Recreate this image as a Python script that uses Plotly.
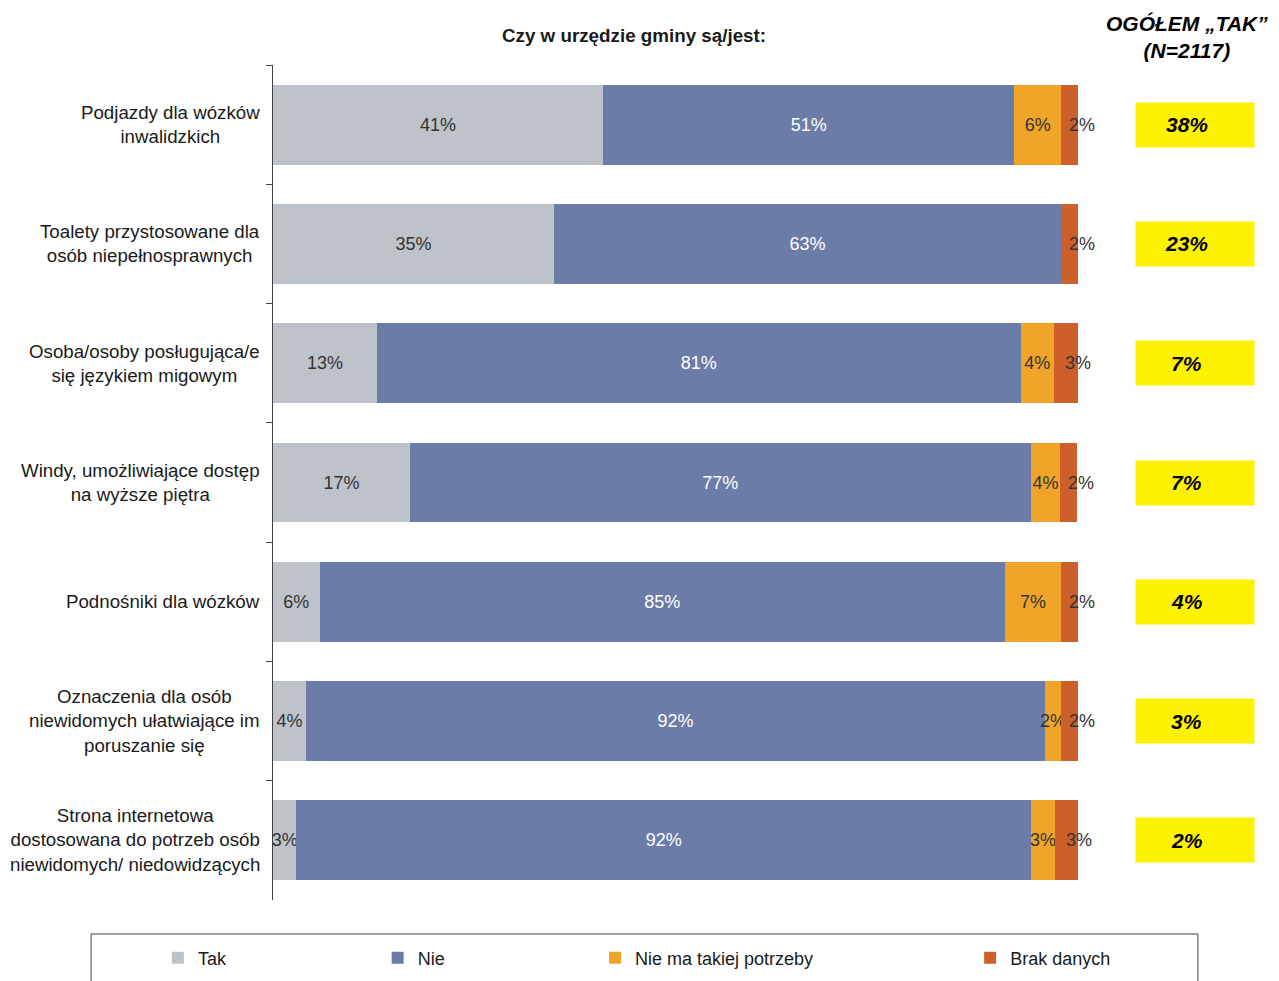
import plotly.graph_objects as go

# categories (top to bottom)
categories = [
    "Podjazdy dla wózków<br>inwalidzkich",
    "Toalety przystosowane dla<br>osób niepełnosprawnych",
    "Osoba/osoby posługująca/e<br>się językiem migowym",
    "Windy, umożliwiające dostęp<br>na wyższe piętra",
    "Podnośniki dla wózków",
    "Oznaczenia dla osób<br>niewidomych ułatwiające im<br>poruszanie się",
    "Strona internetowa<br>dostosowana do potrzeb osób<br>niewidomych/ niedowidzących",
]

tak = [41.0, 34.9, 12.9, 17.0, 5.8, 4.1, 2.9]
nie = [51.1, 63.0, 80.0, 77.1, 85.1, 91.8, 91.3]
nie_ma_potrzeby = [5.8, 0.0, 4.1, 3.7, 7.0, 2.0, 2.9]
brak_danych = [2.1, 2.1, 3.0, 2.1, 2.1, 2.1, 3.0]

tak_lbl = ["41%", "35%", "13%", "17%", "6%", "4%", "3%"]
nie_lbl = ["51%", "63%", "81%", "77%", "85%", "92%", "92%"]
potrzeby_lbl = ["6%", "", "4%", "4%", "7%", "2%", "3%"]
brak_lbl = ["2%", "2%", "3%", "2%", "2%", "2%", "3%"]

ogolem_tak = ["38%", "23%", "7%", "7%", "4%", "3%", "2%"]

ids = [str(i) for i in range(len(categories))]

FONT = "Liberation Sans, Arial, sans-serif"

series = [
    ("Tak", tak, tak_lbl, "#BEC3C9", "#333333", "legend"),
    ("Nie", nie, nie_lbl, "#6B7CA8", "white", "legend2"),
    ("Nie ma takiej potrzeby", nie_ma_potrzeby, potrzeby_lbl, "#F0A42A", "#333333", "legend3"),
    ("Brak danych", brak_danych, None, "#CD5F2A", "#333333", "legend4"),
]

fig = go.Figure()
for name, vals, lbls, col, tcol, lg in series:
    fig.add_trace(go.Bar(
        y=ids, x=vals, orientation="h", name=name,
        marker=dict(color=col, line=dict(width=0)),
        text=lbls, textposition="inside" if lbls else "none",
        insidetextanchor="middle",
        textangle=0, textfont=dict(color=tcol, size=18, family=FONT),
        legend=lg, hoverinfo="skip",
    ))

annotations = []
# "Brak danych" labels sit just right of the segment centre (as in the source chart)
for i in range(len(ids)):
    mid = tak[i] + nie[i] + nie_ma_potrzeby[i] + brak_danych[i] / 2
    annotations.append(dict(
        xref="x", yref="y", x=mid, y=ids[i], xanchor="center", xshift=12,
        text=brak_lbl[i], showarrow=False,
        font=dict(size=18, color="#333333", family=FONT),
    ))
# category labels, centered lines
for i, c in enumerate(categories):
    annotations.append(dict(
        xref="paper", yref="y", x=0, y=ids[i], xanchor="right", xshift=-11,
        text=c, showarrow=False, align="center",
        font=dict(size=18.7, color="#1a1a1a", family=FONT),
    ))
# yellow boxes
for i, v in enumerate(ogolem_tak):
    annotations.append(dict(
        xref="paper", yref="y", x=1.1453, y=ids[i], xanchor="center",
        text=" ", showarrow=False, width=116, height=42, bgcolor="#FFF200",
        font=dict(size=21, family=FONT),
    ))
    annotations.append(dict(
        xref="paper", yref="y", x=1.1453, y=ids[i], xanchor="center", xshift=-8,
        text="<b><i>" + v + "</i></b>", showarrow=False,
        font=dict(size=21, color="black", family=FONT),
    ))
annotations.append(dict(
    xref="paper", yref="paper", x=1.135, y=1.034, xanchor="center", yanchor="middle",
    text="<b><i>OGÓŁEM „TAK”<br>(N=2117)</i></b>", showarrow=False,
    font=dict(size=21, color="black", family=FONT),
))
annotations.append(dict(
    xref="paper", yref="paper", x=0.4485, y=1.0359, xanchor="center", yanchor="middle",
    text="<b>Czy w urzędzie gminy są/jest:</b>", showarrow=False,
    font=dict(size=18.8, color="#1a1a1a", family=FONT),
))

leg_common = dict(orientation="h", yanchor="middle", y=-0.0695, xanchor="left",
                  bgcolor="rgba(0,0,0,0)", font=dict(size=18, color="#1a1a1a", family=FONT),
                  itemwidth=30)

fig.update_layout(
    width=1279, height=981,
    margin=dict(l=265, r=209, t=57, b=89),
    barmode="stack", bargap=0.33,
    plot_bgcolor="white", paper_bgcolor="white",
    font=dict(family=FONT),
    uniformtext=dict(minsize=18, mode="show"),
    xaxis=dict(range=[0, 100], visible=False, fixedrange=True),
    yaxis=dict(autorange="reversed", showticklabels=False, tickson="boundaries",
               ticks="outside", ticklen=6, tickcolor="#404040",
               showline=True, linecolor="#404040", linewidth=1, showgrid=False,
               type="category"),
    annotations=annotations,
    showlegend=True,
    legend=dict(x=-0.143, **leg_common),
    legend2=dict(x=0.130, **leg_common),
    legend3=dict(x=0.400, **leg_common),
    legend4=dict(x=0.866, **leg_common),
    shapes=[dict(type="rect", xref="paper", yref="paper", x0=-0.226, x1=1.149,
                 y0=-0.0407, y1=-0.2, line=dict(color="#404040", width=1))],
)

fig.write_html("out.html")
